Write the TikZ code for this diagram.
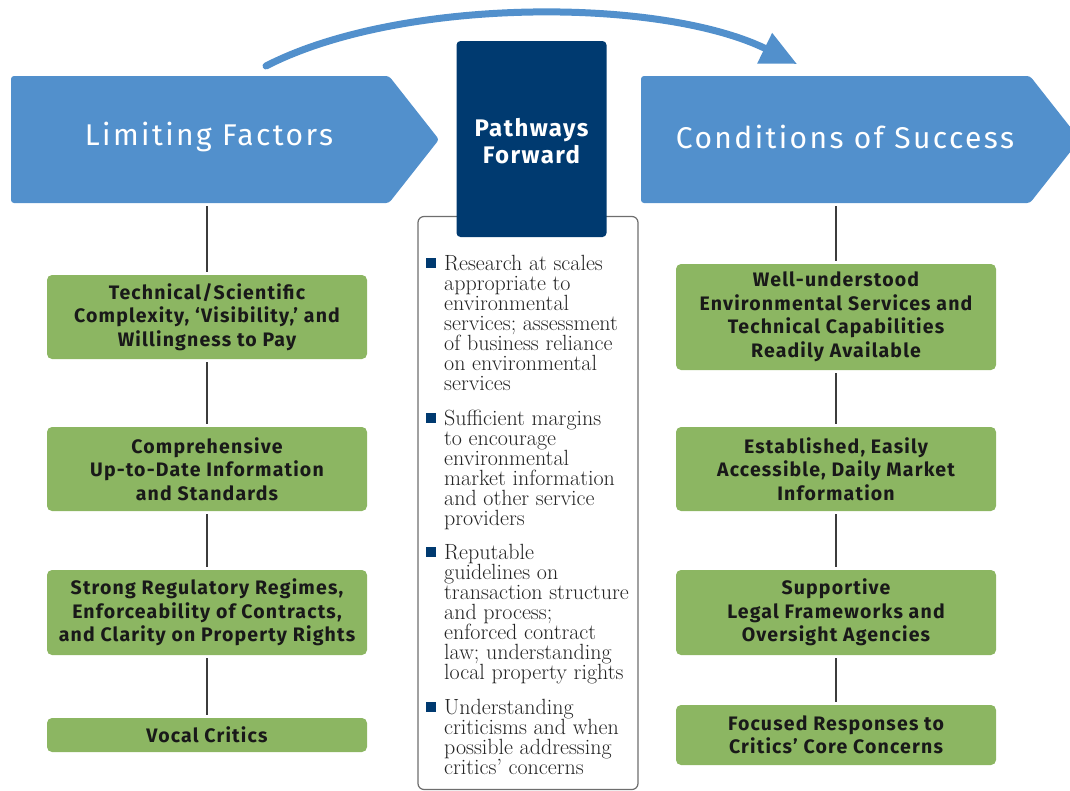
\documentclass[tikz,border=0pt]{standalone}
\usepackage{fontspec}
\usetikzlibrary{arrows.meta}
\newfontfamily\hdrfont[LetterSpace=8]{Fira Sans}
\newfontfamily\grnfont[LetterSpace=6]{Fira Sans}
\newfontfamily\pwfont[LetterSpace=6]{Fira Sans}
\definecolor{arrowblue}{RGB}{82,144,204}
\definecolor{navy}{RGB}{0,58,112}
\definecolor{boxgreen}{RGB}{140,182,98}
\definecolor{darktext}{RGB}{25,25,25}
\definecolor{bodytext}{RGB}{35,35,35}
\definecolor{bordergray}{RGB}{110,110,110}
\definecolor{linegray}{RGB}{60,60,60}
\begin{document}
\begin{tikzpicture}[x=1pt,y=-1pt,
  hdrshape/.style={fill=arrowblue, rounded corners=3pt},
  hdrtext/.style={text=white, font=\hdrfont\fontsize{30}{34}\selectfont, inner sep=0pt},
  navybox/.style={fill=navy, rounded corners=4pt, minimum width=150pt, minimum height=196pt, inner sep=0pt},
  navytext/.style={text=white, align=center, font=\pwfont\bfseries\fontsize{24}{27}\selectfont, inner sep=0pt},
  whitebox/.style={draw=bordergray, line width=1.2pt, fill=white, rounded corners=6pt, minimum width=220pt, minimum height=573pt, inner sep=0pt},
  gbox/.style={fill=boxgreen, rounded corners=5pt, minimum width=320pt, inner sep=0pt, align=center,
    text=darktext, font=\grnfont\bfseries\fontsize{19.5}{23.5}\selectfont},
  bsq/.style={fill=navy, minimum size=10pt, inner sep=0pt},
  btext/.style={anchor=base west, align=left, inner sep=0pt, text=bodytext, font=\fontsize{22}{20}\selectfont},
  conn/.style={draw=linegray, line width=1.5pt, shorten <=3pt, shorten >=3pt},
  curvearrow/.style={draw=arrowblue, line width=7pt, line cap=round, -{Triangle[length=36pt,width=32pt]}}
]
\useasboundingbox (0,0) rectangle (1070,790);

% curved arrow
\coordinate (cs) at (266,66);
\coordinate (ce) at (797,64);
\draw[curvearrow] (cs) .. controls (400,-3) and (660,-3) .. (ce);

% header arrows
\path[hdrshape] (11,76) -- (389,76) -- (439,139.5) -- (389,203) -- (11,203) -- cycle;
\node[hdrtext] (lft) at (209,137) {Limiting Factors};
\coordinate (lfb) at (207,203);
\path[hdrshape] (641,76) -- (1030,76) -- (1080,139.5) -- (1030,203) -- (641,203) -- cycle;
\node[hdrtext] (rft) at (845,137) {Conditions of Success};
\coordinate (rfb) at (836,203);

% central box
\node[whitebox] (cb) at (528,503) {};
\node[navybox] (pf) at (531.5,139) {};
\node[navytext] (pft) at (531.5,141) {Pathways\\Forward};

% bullets
\node[bsq] (s1) at (431,263) {};
\node[btext] (t1) at (444,390) {Research at scales\\appropriate to\\environmental\\services; assessment\\of business reliance\\on environmental\\services};
\node[bsq] (s2) at (431,418) {};
\node[btext] (t2) at (444,525) {Sufficient margins\\to encourage\\environmental\\market information\\and other service\\providers};
\node[bsq] (s3) at (431,552) {};
\node[btext] (t3) at (444,679) {Reputable\\guidelines on\\transaction structure\\and process;\\enforced contract\\law; understanding\\local property rights};
\node[bsq] (s4) at (431,707) {};
\node[btext] (t4) at (444,774) {Understanding\\criticisms and when\\possible addressing\\critics’ concerns};

% left column
\node[gbox, minimum height=84pt] (l1) at (207,317) {Technical/Scientific\\Complexity, ‘Visibility,’ and\\Willingness to Pay};
\node[gbox, minimum height=84pt] (l2) at (207,469) {Comprehensive\\Up-to-Date Information\\and Standards};
\node[gbox, minimum height=85pt] (l3) at (207,612.5) {Strong Regulatory Regimes,\\Enforceability of Contracts,\\and Clarity on Property Rights};
\node[gbox, minimum height=34pt] (l4) at (207,735) {Vocal Critics};

% right column
\node[gbox, minimum height=106pt] (r1) at (836,317) {Well-understood\\Environmental Services and\\Technical Capabilities\\Readily Available};
\node[gbox, minimum height=84pt] (r2) at (836,469) {Established, Easily\\Accessible, Daily Market\\Information};
\node[gbox, minimum height=85pt] (r3) at (836,612.5) {Supportive\\Legal Frameworks and\\Oversight Agencies};
\node[gbox, minimum height=60pt] (r4) at (836,735) {Focused Responses to\\Critics’ Core Concerns};

% connectors
\draw[conn] (lfb) -- (l1.north);
\draw[conn] (l1) -- (l2);
\draw[conn] (l2) -- (l3);
\draw[conn] (l3) -- (l4);
\draw[conn] (rfb) -- (r1.north);
\draw[conn] (r1) -- (r2);
\draw[conn] (r2) -- (r3);
\draw[conn] (r3) -- (r4);
\end{tikzpicture}
\end{document}
